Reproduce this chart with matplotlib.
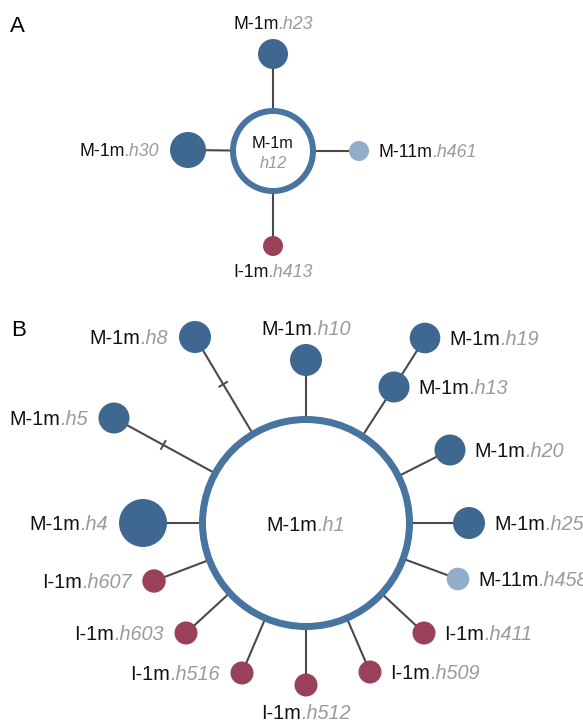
import numpy as np
import matplotlib
matplotlib.use('Agg')
import matplotlib.pyplot as plt
from matplotlib.patches import Circle

plt.rcParams['font.family'] = ['Liberation Sans', 'DejaVu Sans']

# colours by group
group_colors = {'M-1m': '#3f6891', 'M-11m': '#93adc9', 'I-1m': '#994158'}
ring_color = '#4874a0'
edge_color = '#4a4a4a'
hap_color = '#9a9a9a'

# ---- panel A: hub h12 and its neighbours (pixel layout)
a_hub = ('M-1m', 'h12', 273, 151, 40)
a_group = ['M-1m', 'M-1m', 'M-11m', 'I-1m']
a_hap = ['h23', 'h30', 'h461', 'h413']
a_x = [273, 188, 359, 273]
a_y = [54, 150, 151, 246]
a_r = [15, 18, 10, 10]
a_side = ['top', 'left', 'right', 'bottom']

# ---- panel B: hub h1 and its neighbours
b_hub = ('M-1m', 'h1', 306, 523, 103.5)
b_group = ['M-1m', 'M-1m', 'M-1m', 'M-1m', 'M-1m', 'M-1m', 'M-1m', 'M-11m',
           'I-1m', 'I-1m', 'I-1m', 'I-1m', 'I-1m', 'I-1m', 'M-1m']
b_hap = ['h8', 'h5', 'h4', 'h10', 'h13', 'h20', 'h25', 'h458',
         'h411', 'h509', 'h512', 'h516', 'h603', 'h607', 'h19']
b_x = [195, 114, 143, 306, 394, 450, 469, 458, 424, 370, 306, 242, 186, 154, 425]
b_y = [337, 418, 523, 360, 387, 450, 523, 579, 633, 672, 685, 673, 633, 581, 338]
b_r = [16, 15.5, 24, 16, 15.5, 15.5, 16, 11.3, 11.5, 11.5, 11.5, 11.5, 11.5, 11.7, 15.3]
b_side = ['left', 'left', 'left', 'top', 'right', 'right', 'right', 'right',
          'right', 'right', 'bottom', 'left', 'left', 'left', 'right']
b_parent = [None] * 14 + ['h13']
b_steps = [2, 2, 1, 1, 1, 1, 1, 1, 1, 1, 1, 1, 1, 1, 1]

W, H = 583, 720
fig = plt.figure(figsize=(W / 100, H / 100), dpi=100)
ax = fig.add_axes([0, 0, 1, 1])
ax.set_xlim(0, W)
ax.set_ylim(H, 0)
ax.set_aspect('equal')
ax.axis('off')
renderer = fig.canvas.get_renderer()


def label(x, y, group, hap, ha, size):
    yb = y + 0.358 * size * 100 / 72
    t1 = ax.text(0, yb, group, fontsize=size, color='#111111', va='baseline')
    t2 = ax.text(0, yb, '.' + hap, fontsize=size, color=hap_color,
                 style='italic', va='baseline')
    w1 = t1.get_window_extent(renderer).width
    w2 = t2.get_window_extent(renderer).width
    if ha == 'left':
        x0 = x
    elif ha == 'right':
        x0 = x - w1 - w2
    else:
        x0 = x - (w1 + w2) / 2
    t1.set_x(x0)
    t2.set_x(x0 + w1)


def draw_net(hub, groups, haps, xs, ys, rs, sides, size, parents=None, steps=None,
             ring_w=6):
    hg, hh, hx, hy, hr = hub
    pos = {haps[i]: (xs[i], ys[i]) for i in range(len(haps))}
    ax.add_patch(Circle((hx, hy), hr, facecolor='white', edgecolor=ring_color,
                        lw=ring_w * 0.72, zorder=2))
    for i, hap in enumerate(haps):
        par = parents[i] if parents else None
        px, py = pos[par] if par else (hx, hy)
        ax.plot([px, xs[i]], [py, ys[i]], color=edge_color, lw=1.5, zorder=1,
                solid_capstyle='butt')
        # mutation ticks between the ring and the node
        n_ticks = (steps[i] - 1) if steps else 0
        if n_ticks > 0:
            d = np.array([xs[i] - hx, ys[i] - hy])
            L = np.hypot(*d)
            u = d / L
            nvec = np.array([-u[1], u[0]])
            for k in range(n_ticks):
                f = (k + 1) / (n_ticks + 1)
                p = np.array([hx, hy]) + u * ((hr + 3) + f * (L - hr - 3))
                a = p - nvec * 4.5
                b = p + nvec * 4.5
                ax.plot([a[0], b[0]], [a[1], b[1]], color=edge_color, lw=1.4, zorder=1)
        ax.add_patch(Circle((xs[i], ys[i]), rs[i], facecolor=group_colors[groups[i]],
                            edgecolor='none', zorder=3))
        gap = 9
        if sides[i] == 'left':
            label(xs[i] - rs[i] - gap - 2, ys[i], groups[i], hap, 'right', size)
        elif sides[i] == 'right':
            label(xs[i] + rs[i] + gap, ys[i], groups[i], hap, 'left', size)
        elif sides[i] == 'top':
            label(xs[i], ys[i] - rs[i] - 16, groups[i], hap, 'center', size)
        else:
            label(xs[i], ys[i] + rs[i] + 15, groups[i], hap, 'center', size)


draw_net(a_hub, a_group, a_hap, a_x, a_y, a_r, a_side, 12.8, ring_w=6)
ax.text(a_hub[2], a_hub[3] - 8, a_hub[0], fontsize=11.8, color='#111111',
        ha='center', va='center', zorder=4)
ax.text(a_hub[2], a_hub[3] + 13, a_hub[1], fontsize=11.8, color=hap_color,
        style='italic', ha='center', va='center', zorder=4)

draw_net(b_hub, b_group, b_hap, b_x, b_y, b_r, b_side, 14.3,
         parents=b_parent, steps=b_steps, ring_w=7)
label(b_hub[2], b_hub[3] + 1, b_hub[0], b_hub[1], 'center', 14.3)

ax.text(10, 26, 'A', fontsize=16, va='center', ha='left')
ax.text(11, 331, 'B', fontsize=16, va='center', ha='left')

fig.savefig('out.png', dpi=100)
